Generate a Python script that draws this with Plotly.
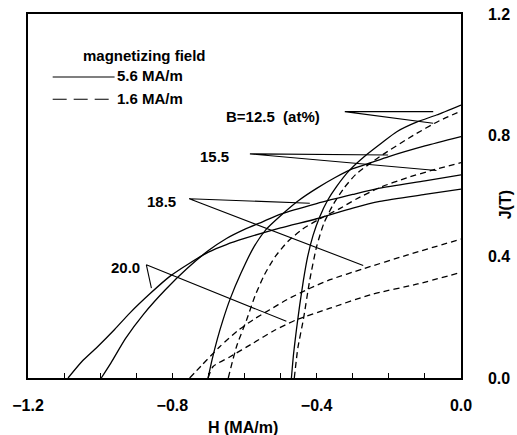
import plotly.graph_objects as go

# ---- data ----
# 5.6 MA/m magnetizing field (solid)
h_125_s = [-0.470, -0.464, -0.456, -0.447, -0.437, -0.425, -0.410, -0.392, -0.370, -0.345, -0.308, -0.262, -0.220, -0.178, -0.120, -0.068, 0.0]
j_125_s = [0.0, 0.08, 0.16, 0.24, 0.32, 0.40, 0.47, 0.53, 0.585, 0.631, 0.686, 0.736, 0.775, 0.812, 0.845, 0.867, 0.900]

h_155_s = [-0.701, -0.690, -0.675, -0.660, -0.640, -0.610, -0.575, -0.540, -0.500, -0.450, -0.400, -0.350, -0.300, -0.250, -0.200, -0.100, 0.0]
j_155_s = [0.0, 0.06, 0.13, 0.19, 0.26, 0.345, 0.43, 0.49, 0.535, 0.585, 0.625, 0.66, 0.69, 0.71, 0.73, 0.765, 0.796]

h_185_s = [-0.997, -0.970, -0.930, -0.880, -0.820, -0.760, -0.700, -0.650, -0.600, -0.550, -0.500, -0.400, -0.300, -0.225, -0.100, 0.0]
j_185_s = [0.0, 0.05, 0.13, 0.21, 0.29, 0.36, 0.42, 0.46, 0.49, 0.515, 0.54, 0.575, 0.605, 0.626, 0.65, 0.670]

h_200_s = [-1.089, -1.050, -1.010, -0.960, -0.918, -0.860, -0.807, -0.750, -0.700, -0.650, -0.600, -0.500, -0.400, -0.300, -0.225, -0.100, 0.0]
j_200_s = [0.0, 0.055, 0.10, 0.16, 0.214, 0.28, 0.335, 0.38, 0.415, 0.44, 0.46, 0.495, 0.525, 0.56, 0.582, 0.605, 0.623]

# 1.6 MA/m magnetizing field (dashed)
h_125_d = [-0.462, -0.452, -0.437, -0.419, -0.400, -0.380, -0.355, -0.325, -0.291, -0.225, -0.132, -0.060, 0.0]
j_125_d = [0.0, 0.10, 0.192, 0.324, 0.434, 0.510, 0.57, 0.625, 0.672, 0.73, 0.800, 0.848, 0.880]

h_155_d = [-0.645, -0.622, -0.594, -0.571, -0.545, -0.515, -0.480, -0.440, -0.391, -0.340, -0.290, -0.225, -0.150, -0.077, 0.0]
j_155_d = [0.0, 0.104, 0.192, 0.270, 0.340, 0.400, 0.450, 0.490, 0.525, 0.556, 0.59, 0.628, 0.66, 0.686, 0.710]

h_185_d = [-0.752, -0.720, -0.668, -0.620, -0.576, -0.530, -0.483, -0.420, -0.363, -0.271, -0.150, 0.0]
j_185_d = [0.0, 0.04, 0.104, 0.155, 0.192, 0.225, 0.258, 0.295, 0.324, 0.36, 0.405, 0.458]

h_200_d = [-0.701, -0.687, -0.640, -0.576, -0.520, -0.456, -0.363, -0.250, -0.120, 0.0]
j_200_d = [0.0, 0.038, 0.070, 0.115, 0.155, 0.192, 0.230, 0.275, 0.31, 0.348]

# composition labels and their leader lines (label anchor -> curve points)
comp_labels = ["B=12.5  (at%)", "15.5", "18.5", "20.0"]
label_x = [-0.521, -0.682, -0.829, -0.929]
label_y = [0.861, 0.729, 0.581, 0.363]
leader_start_x = [-0.322, -0.585, -0.753, -0.872]
leader_start_y = [0.878, 0.739, 0.591, 0.373]
leader_end1_x = [-0.077, -0.202, -0.419, -0.858]
leader_end1_y = [0.878, 0.735, 0.576, 0.296]
leader_end2_x = [-0.077, -0.068, -0.271, -0.484]
leader_end2_y = [0.840, 0.684, 0.371, 0.187]

x_ticks = [-1.2, -0.8, -0.4, 0.0]
x_ticktext = ["\u22121.2", "\u22120.8", "\u22120.4", "0.0"]
y_ticks = [0.0, 0.4, 0.8, 1.2]
y_ticktext = ["0.0", "0.4", "0.8", "1.2"]

legend_title = "magnetizing field"
legend_items = ["5.6 MA/m", "1.6 MA/m"]
x_title = "H (MA/m)"
y_title = "J(T)"

FONT = "Liberation Sans, Arial, sans-serif"
LW = 1.3


def bold(s):
    return "<b>" + s + "</b>"


fig = go.Figure()

solids = [(h_125_s, j_125_s), (h_155_s, j_155_s), (h_185_s, j_185_s), (h_200_s, j_200_s)]
dashes = [(h_125_d, j_125_d), (h_155_d, j_155_d), (h_185_d, j_185_d), (h_200_d, j_200_d)]

for hx, jy in solids:
    fig.add_trace(go.Scatter(x=hx, y=jy, mode="lines", line=dict(color="black", width=LW, shape="spline", smoothing=0.6),
                             showlegend=False, hoverinfo="skip"))
for hx, jy in dashes:
    fig.add_trace(go.Scatter(x=hx, y=jy, mode="lines", line=dict(color="black", width=LW, dash="6px,4px", shape="spline", smoothing=0.6),
                             showlegend=False, hoverinfo="skip"))

# leader lines
for i in range(len(comp_labels)):
    fig.add_trace(go.Scatter(x=[leader_end1_x[i], leader_start_x[i], leader_end2_x[i]],
                             y=[leader_end1_y[i], leader_start_y[i], leader_end2_y[i]],
                             mode="lines", line=dict(color="black", width=1.1),
                             showlegend=False, hoverinfo="skip"))
    fig.add_annotation(x=label_x[i], y=label_y[i], text=bold(comp_labels[i]), showarrow=False,
                       xanchor="center", yanchor="middle",
                       font=dict(family=FONT, size=15, color="black"))

# legend drawn in paper coordinates
fig.add_annotation(xref="paper", yref="paper", x=0.269, y=0.887, text=bold(legend_title), showarrow=False,
                   xanchor="center", yanchor="middle", font=dict(family=FONT, size=15, color="black"))
fig.add_shape(type="line", xref="paper", yref="paper", x0=0.057, x1=0.200, y0=0.827, y1=0.827,
              line=dict(color="black", width=1.1))
fig.add_shape(type="line", xref="paper", yref="paper", x0=0.057, x1=0.200, y0=0.766, y1=0.766,
              line=dict(color="black", width=1.1, dash="14px,7px"))
fig.add_annotation(xref="paper", yref="paper", x=0.200, y=0.830, text=bold(legend_items[0]), showarrow=False,
                   xanchor="left", yanchor="middle", font=dict(family=FONT, size=15, color="black"))
fig.add_annotation(xref="paper", yref="paper", x=0.200, y=0.769, text=bold(legend_items[1]), showarrow=False,
                   xanchor="left", yanchor="middle", font=dict(family=FONT, size=15, color="black"))

# axis titles
fig.add_annotation(xref="paper", yref="paper", x=0.496, y=-0.136, text=bold(x_title), showarrow=False,
                   xanchor="center", yanchor="middle", font=dict(family=FONT, size=16, color="black"))
fig.add_annotation(xref="paper", yref="paper", x=1.103, y=0.476, text=bold(y_title), showarrow=False, textangle=-90,
                   xanchor="center", yanchor="middle", font=dict(family=FONT, size=16, color="black"))

fig.update_layout(
    width=517, height=435,
    margin=dict(l=28, r=56, t=14, b=57, autoexpand=False),
    paper_bgcolor="white", plot_bgcolor="white",
    showlegend=False,
    font=dict(family=FONT, size=16, color="black"),
    xaxis=dict(range=[-1.2, 0.0], tickvals=x_ticks, ticktext=[bold(t) for t in x_ticktext], automargin=False,
               ticks="inside", ticklen=5, tickwidth=1, tickcolor="black",
               minor=dict(dtick=0.1, tick0=0, ticks="inside", ticklen=5, tickwidth=1, tickcolor="black"),
               showline=True, linecolor="black", linewidth=1.5, mirror=True,
               showgrid=False, zeroline=False, ticklabelstandoff=12, ticklabeloverflow="allow"),
    yaxis=dict(range=[0.0, 1.2], tickvals=y_ticks, ticktext=[bold(t) for t in y_ticktext], side="right", automargin=False,
               ticks="", showline=True, linecolor="black", linewidth=1.5, mirror=True,
               showgrid=False, zeroline=False, ticklabelstandoff=22, ticklabeloverflow="allow"),
)

fig.write_html("out.html", config={"displayModeBar": False},
               post_script="document.body.style.margin='0';document.body.style.overflow='hidden';")
